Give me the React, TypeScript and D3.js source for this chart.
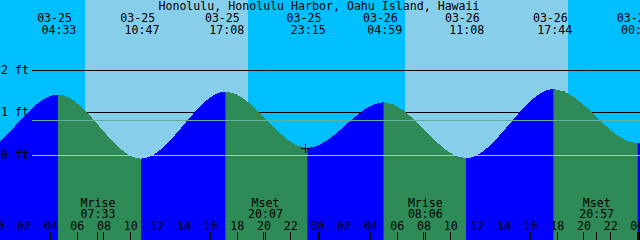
import React, { useEffect } from "react";
import * as d3 from "d3";

const W = 640;
const H = 240;

const title = "Honolulu, Honolulu Harbor, Oahu Island, Hawaii";

// Tide extrema (first and last are just outside the visible window)
const tideTimes = [
  "03-24 16:20", "03-24 22:10", "03-25 04:33", "03-25 10:47", "03-25 17:08",
  "03-25 23:15", "03-26 04:59", "03-26 11:08", "03-26 17:44", "03-27 00:01", "03-27 06:20",
];
const tideHeights = [1.4, -0.03, 1.43, -0.08, 1.5, 0.17, 1.25, -0.07, 1.56, 0.28, 1.35];
const tideLabelFirst = 2;
const tideLabelLast = 9;

const sunriseTimes = ["03-25 06:35", "03-26 06:35"];
const sunsetTimes = ["03-25 18:48", "03-26 18:48"];

const moonLabels = ["Mrise", "Mset", "Mrise", "Mset"];
const moonTimes = ["03-25 07:33", "03-25 20:07", "03-26 08:06", "03-26 20:57"];

const depthLevels = [0, 1, 2];
const depthLabels = ["0 ft", "1 ft", "2 ft"];
const mslLevel = 0.82;

const hourTickLabels = [
  "00", "02", "04", "06", "08", "10", "12", "14", "16", "18", "20", "22",
  "00", "02", "04", "06", "08", "10", "12", "14", "16", "18", "20", "22", "00",
];

const nowTime = "03-25 23:05";
const nowHeight = 0.155;

const NIGHT = "#00bfff";
const DAY = "#87ceeb";
const RISING = "#0000ff";
const FALLING = "#2e8b57";
const MSL_COLOR = "#60b0a0";
const DATUM_COLOR = "#90d2e2";
const FONT = "'DejaVu Sans Mono', 'Liberation Mono', monospace";
const FS = 11.6;

function hrs(s: string): number {
  const [md, hm] = s.split(" ");
  const day = +md.split("-")[1];
  const [hh, mm] = hm.split(":").map(Number);
  return (day - 25) * 24 + hh + mm / 60;
}

export default function App() {
  useEffect(() => {
    document.body.style.margin = "0";
  }, []);

  const x = d3.scaleLinear().domain([0, 48]).range([-2.67, 637.33]);
  const y = d3.scaleLinear().domain([0, 2]).range([155.3, 70.3]);

  const pts = tideTimes.map((t, i) => ({ t: hrs(t), h: tideHeights[i] }));
  const area = d3
    .area<{ t: number; h: number }>()
    .x((d) => x(d.t))
    .y0(H)
    .y1((d) => y(d.h))
    .curve(d3.curveMonotoneX);
  const areaPath = area(pts) || "";

  const crisp = (v: number) => Math.floor(v) + 0.5;
  const lineX0 = 32;

  const nx = x(hrs(nowTime));
  const ny = y(nowHeight);

  return (
    <svg width={W} height={H} style={{ display: "block", position: "absolute", left: 0, top: 0 }}>
      <defs>
        {pts.slice(0, -1).map((p, i) => (
          <clipPath id={`seg${i}`} key={i}>
            <rect x={x(p.t)} y={0} width={x(pts[i + 1].t) - x(p.t)} height={H} />
          </clipPath>
        ))}
      </defs>
      <rect x={0} y={0} width={W} height={H} fill={NIGHT} />
      {sunriseTimes.map((sr, i) => (
        <rect
          key={i}
          x={x(hrs(sr))}
          y={0}
          width={x(hrs(sunsetTimes[i])) - x(hrs(sr))}
          height={H}
          fill={DAY}
          shapeRendering="crispEdges"
        />
      ))}
      {depthLevels.map((lv) => (
        <line
          key={lv}
          x1={lineX0}
          x2={W}
          y1={crisp(y(lv))}
          y2={crisp(y(lv))}
          stroke="#000"
          strokeWidth={1}
        />
      ))}
      {pts.slice(0, -1).map((p, i) => (
        <path
          key={i}
          d={areaPath}
          clipPath={`url(#seg${i})`}
          fill={pts[i + 1].h > p.h ? RISING : FALLING}
          shapeRendering="crispEdges"
        />
      ))}
      <line x1={lineX0} x2={W} y1={crisp(y(mslLevel))} y2={crisp(y(mslLevel))} stroke={MSL_COLOR} strokeWidth={1} />
      <line x1={lineX0} x2={W} y1={crisp(y(0))} y2={crisp(y(0))} stroke={DATUM_COLOR} strokeWidth={1} />

      {/* now marker */}
      <line x1={Math.round(nx) - 4} x2={Math.round(nx) + 4} y1={crisp(ny)} y2={crisp(ny)} stroke="#000" strokeWidth={1} />
      <line x1={crisp(nx)} x2={crisp(nx)} y1={Math.floor(ny) - 4} y2={Math.floor(ny) + 5} stroke="#000" strokeWidth={1} />

      <g fontFamily={FONT} fontSize={FS} fill="#000">
        <text x={319} y={10} textAnchor="middle">{title}</text>
        {pts.slice(tideLabelFirst, tideLabelLast + 1).map((p, i) => {
          const s = tideTimes[tideLabelFirst + i].split(" ");
          const ex = x(p.t);
          return (
            <g key={i}>
              <text x={ex - 3.4} y={22} textAnchor="middle">{s[0]}</text>
              <text x={ex + 0.9} y={34} textAnchor="middle">{s[1]}</text>
            </g>
          );
        })}
        {depthLevels.map((lv, i) => (
          <text key={lv} x={1} y={Math.floor(y(lv)) + 4}>{depthLabels[i]}</text>
        ))}
        {moonTimes.map((mt, i) => {
          const mx = x(hrs(mt));
          return (
            <g key={i}>
              <text x={mx} y={206.5} textAnchor="middle">{moonLabels[i]}</text>
              <text x={mx} y={218} textAnchor="middle">{mt.split(" ")[1]}</text>
              <line x1={crisp(mx)} x2={crisp(mx)} y1={232} y2={H} stroke="#000" strokeWidth={1} />
            </g>
          );
        })}
        {hourTickLabels.map((lab, i) => {
          const tx = x(i * 2);
          const midnight = (i * 2) % 24 === 0;
          return (
            <g key={i}>
              <text x={tx} y={230} textAnchor="middle">{lab}</text>
              {midnight ? (
                <rect x={Math.floor(tx)} y={232} width={3} height={8} fill="#000" />
              ) : (
                <line x1={crisp(tx)} x2={crisp(tx)} y1={232} y2={H} stroke="#000" strokeWidth={1} />
              )}
            </g>
          );
        })}
      </g>
    </svg>
  );
}
